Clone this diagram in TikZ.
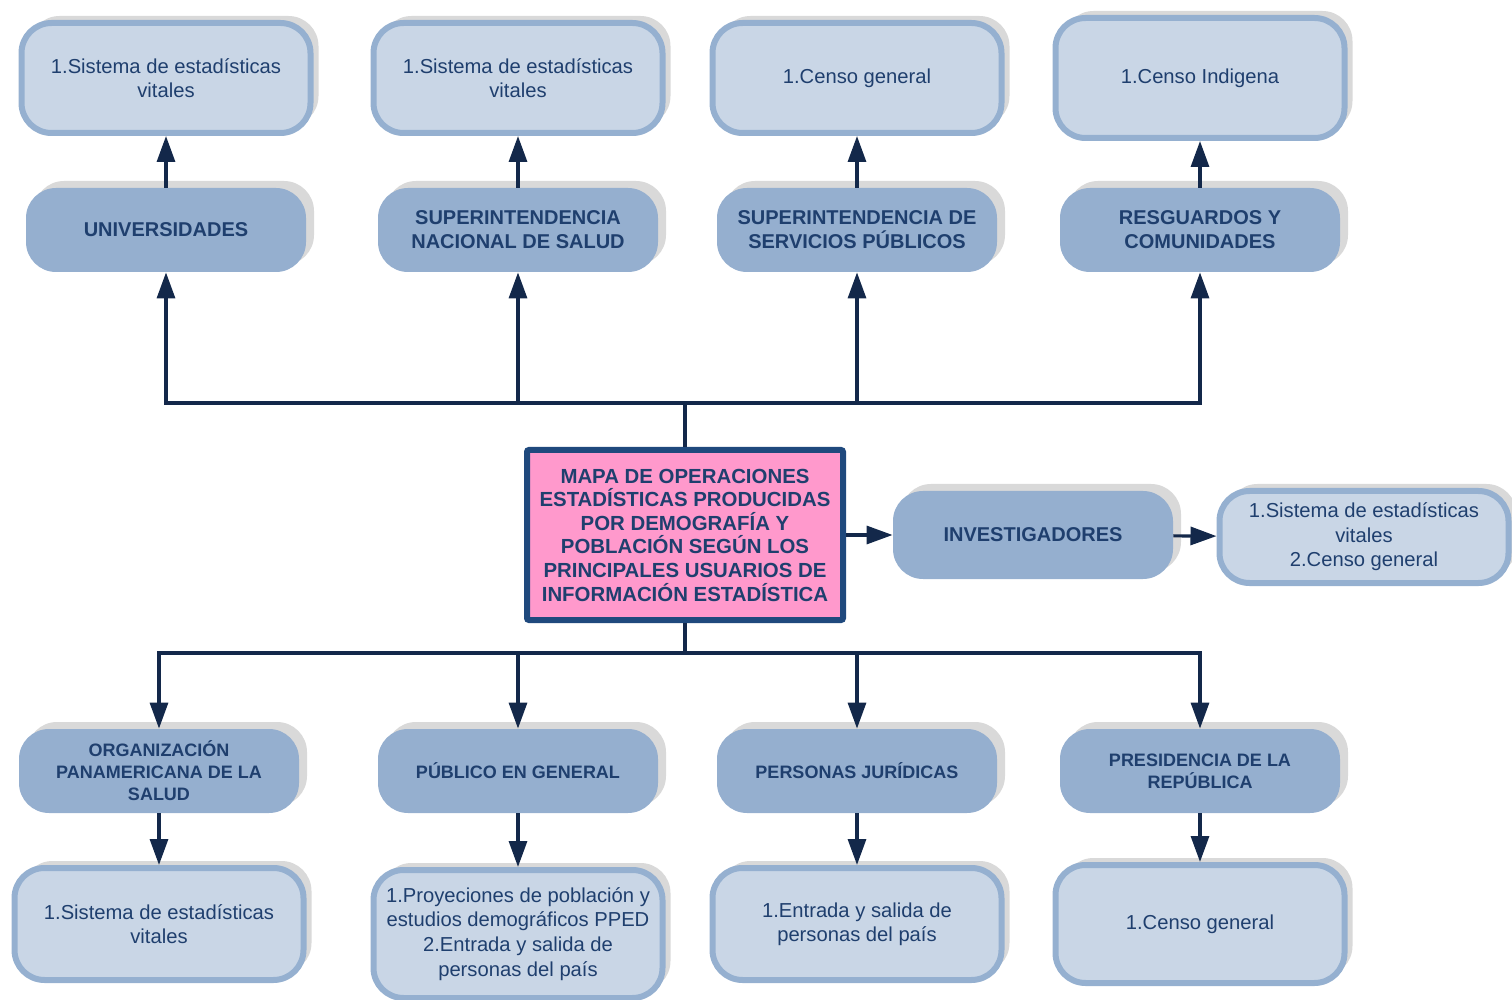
\documentclass[tikz,border=0pt]{standalone}
\usepackage{fontspec}
\setmainfont{Liberation Sans}
\usetikzlibrary{arrows.meta,shadows}
\definecolor{lightbox}{HTML}{C9D6E6}
\definecolor{lightedge}{HTML}{95B0D0}
\definecolor{darkbox}{HTML}{95AFCF}
\definecolor{navytext}{HTML}{1F3F6E}
\definecolor{arrowcol}{HTML}{13284A}
\definecolor{hubpink}{HTML}{FF99CC}
\definecolor{hubedge}{HTML}{1F497D}

\begin{document}
\begin{tikzpicture}[x=0.5pt, y=-0.5pt,
        boxshadow/.style={drop shadow={shadow xshift=4pt, shadow yshift=3.5pt, fill=black!15, opacity=1}},
        opbox/.style={rectangle, rounded corners=15pt, fill=lightbox, draw=lightedge, line width=3pt,
            minimum width=144.5pt, minimum height=55pt, align=center, text=navytext,
            font=\fontsize{10.1}{12.2}\selectfont, boxshadow},
        userbox/.style={rectangle, rounded corners=15pt, fill=darkbox, minimum width=140pt,
            minimum height=42pt, align=center, text=navytext,
            font=\fontsize{10}{12}\selectfont\bfseries, boxshadow},
        lowfont/.style={font=\fontsize{9}{11}\selectfont\bfseries},
        hubbox/.style={rectangle, rounded corners=1pt, fill=hubpink, draw=hubedge, line width=3pt,
            minimum width=158pt, minimum height=85pt, align=center, text=navytext,
            font=\fontsize{10.2}{11.8}\selectfont\bfseries},
        conn/.style={draw=arrowcol, line width=1.6pt},
        arr/.style={conn, -{Triangle[length=13pt, width=9pt]}}]
            \useasboundingbox (0,0) rectangle (1512,1000);

            % Nodes
            \node[opbox] (s1) at (166,78) {1.Sistema de estadísticas\\vitales};
            \node[opbox] (s2) at (518,78) {1.Sistema de estadísticas\\vitales};
            \node[opbox] (s3) at (857,78) {1.Censo general};
            \node[opbox, minimum height=60pt] (s4) at (1200,78) {1.Censo Indigena};

            \node[userbox] (u1) at (166,230) {UNIVERSIDADES};
            \node[userbox] (u2) at (518,230) {SUPERINTENDENCIA\\NACIONAL DE SALUD};
            \node[userbox] (u3) at (857,230) {SUPERINTENDENCIA DE\\SERVICIOS PÚBLICOS};
            \node[userbox] (u4) at (1200,230) {RESGUARDOS Y\\COMUNIDADES};

            \node[hubbox] (hub) at (685,535) {MAPA DE OPERACIONES\\ESTADÍSTICAS PRODUCIDAS\\POR DEMOGRAFÍA Y\\POBLACIÓN SEGÚN LOS\\PRINCIPALES USUARIOS DE\\INFORMACIÓN ESTADÍSTICA};
            \node[userbox, minimum height=44pt] (inv) at (1033,535) {INVESTIGADORES};
            \node[opbox, minimum height=46pt] (s5) at (1364,537) {1.Sistema de estadísticas\\vitales\\2.Censo general};

            \node[userbox, lowfont] (c1) at (159,771) {ORGANIZACIÓN\\PANAMERICANA DE LA\\SALUD};
            \node[userbox, lowfont] (c2) at (518,771) {PÚBLICO EN GENERAL};
            \node[userbox, lowfont] (c3) at (857,771) {PERSONAS JURÍDICAS};
            \node[userbox, lowfont] (c4) at (1200,771) {PRESIDENCIA DE LA\\REPÚBLICA};

            \node[opbox, minimum height=56pt] (d1) at (159,924) {1.Sistema de estadísticas\\vitales};
            \node[opbox, minimum height=64pt, font=\fontsize{10.1}{12.4}\selectfont] (d2) at (518,934) {1.Proyeciones de población y\\estudios demográficos PPED\\2.Entrada y salida de\\personas del país};
            \node[opbox, minimum height=56pt] (d3) at (857,924) {1.Entrada y salida de\\personas del país};
            \node[opbox, minimum height=59pt] (d4) at (1200,924) {1.Censo general};

            \coordinate (up) at (685,403);
            \coordinate (down) at (685,653);

            % Edges
            \draw[conn] (hub) -- (up);
            \draw[conn] (hub) -- (down);
            \foreach \n in {1,...,4} {
                \draw[arr] (up) -| (u\n);
                \draw[arr] (u\n) -- (s\n);
                \draw[arr] (down) -| (c\n);
                \draw[arr] (c\n) -- (d\n);
            }
            \draw[arr] (hub) -- (inv);
            \draw[arr] (inv) -- (s5);
        \end{tikzpicture}
\end{document}
